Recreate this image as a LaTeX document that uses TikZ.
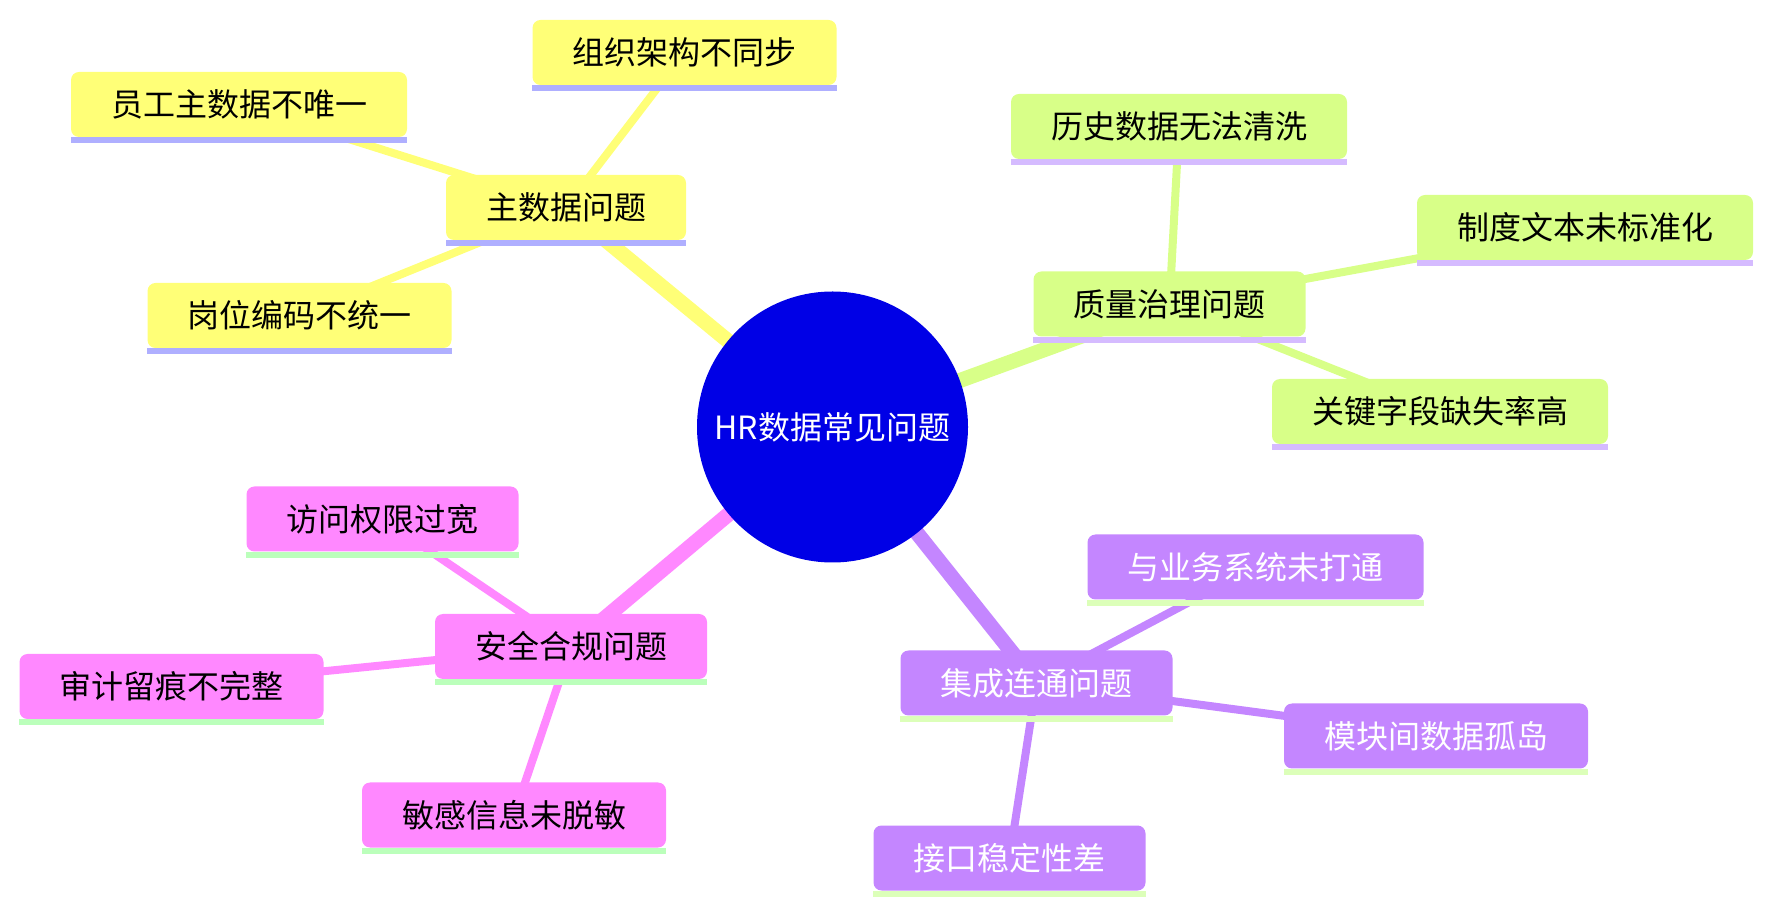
\documentclass[tikz,border=0pt]{standalone}
\usepackage{fontspec}
\setmainfont{Noto Sans CJK SC}
\usepackage{xcolor}
\usetikzlibrary{backgrounds}
\definecolor{hrblue}{HTML}{0000E6}
\definecolor{ylw}{HTML}{FFFF77}
\definecolor{ylwline}{HTML}{AFAFFF}
\definecolor{grn}{HTML}{D8FF88}
\definecolor{grnline}{HTML}{D5BBFF}
\definecolor{prp}{HTML}{C486FF}
\definecolor{prpline}{HTML}{DCFFB9}
\definecolor{pnk}{HTML}{FF88FF}
\definecolor{pnkline}{HTML}{BBFFBB}

\begin{document}
\begin{tikzpicture}[x=0.5pt,y=-0.5pt,
  every node/.style={font=\fontsize{16pt}{19pt}\selectfont},
  topic/.style={rounded corners=4pt,minimum height=32.5pt,inner xsep=20pt,inner ysep=0pt}]
  \useasboundingbox (0,0) rectangle (1772,913);
  \node[circle,fill=hrblue,text=white,minimum size=135.5pt,inner sep=0pt] (hr) at (832.5,427){HR数据常见问题};
  % master data
  \node[topic,fill=ylw] (master) at (566,207.5){主数据问题};
  \node[topic,fill=ylw] (org) at (684.5,52.5){组织架构不同步};
  \node[topic,fill=ylw] (emp) at (239,104.5){员工主数据不唯一};
  \node[topic,fill=ylw] (post) at (299.5,315.5){岗位编码不统一};
  % quality
  \node[topic,fill=grn] (quality) at (1169.5,304){质量治理问题};
  \node[topic,fill=grn] (history) at (1179,126.5){历史数据无法清洗};
  \node[topic,fill=grn] (policy) at (1585,227.5){制度文本未标准化};
  \node[topic,fill=grn] (field) at (1440,411.5){关键字段缺失率高};
  % integration
  \node[topic,fill=prp,text=white] (integ) at (1036.5,683){集成连通问题};
  \node[topic,fill=prp,text=white] (biz) at (1255.5,567){与业务系统未打通};
  \node[topic,fill=prp,text=white] (island) at (1436,736){模块间数据孤岛};
  \node[topic,fill=prp,text=white] (api) at (1009.5,858){接口稳定性差};
  % security
  \node[topic,fill=pnk] (secure) at (571,646.5){安全合规问题};
  \node[topic,fill=pnk] (access) at (382.5,519){访问权限过宽};
  \node[topic,fill=pnk] (audit) at (171.5,686.5){审计留痕不完整};
  \node[topic,fill=pnk] (mask) at (514,815){敏感信息未脱敏};
  \foreach \n/\c in {master/ylwline,org/ylwline,emp/ylwline,post/ylwline,quality/grnline,history/grnline,policy/grnline,field/grnline,
    integ/prpline,biz/prpline,island/prpline,api/prpline,secure/pnkline,access/pnkline,audit/pnkline,mask/pnkline}
    \fill[color=\c] (\n.south west) rectangle ([yshift=-3pt]\n.south east);
  \begin{scope}[on background layer]
    \foreach \b/\c in {master/ylw,quality/grn,integ/prp,secure/pnk}
      \draw[line width=7.5pt,color=\c] (hr.center) -- (\b.center);
    \foreach \a/\b/\c in {master/org/ylw,master/emp/ylw,master/post/ylw,quality/history/grn,quality/policy/grn,quality/field/grn,
      integ/biz/prp,integ/island/prp,integ/api/prp,secure/access/pnk,secure/audit/pnk,secure/mask/pnk}
      \draw[line width=4pt,color=\c] (\a.center) -- (\b.center);
  \end{scope}
\end{tikzpicture}
\end{document}
